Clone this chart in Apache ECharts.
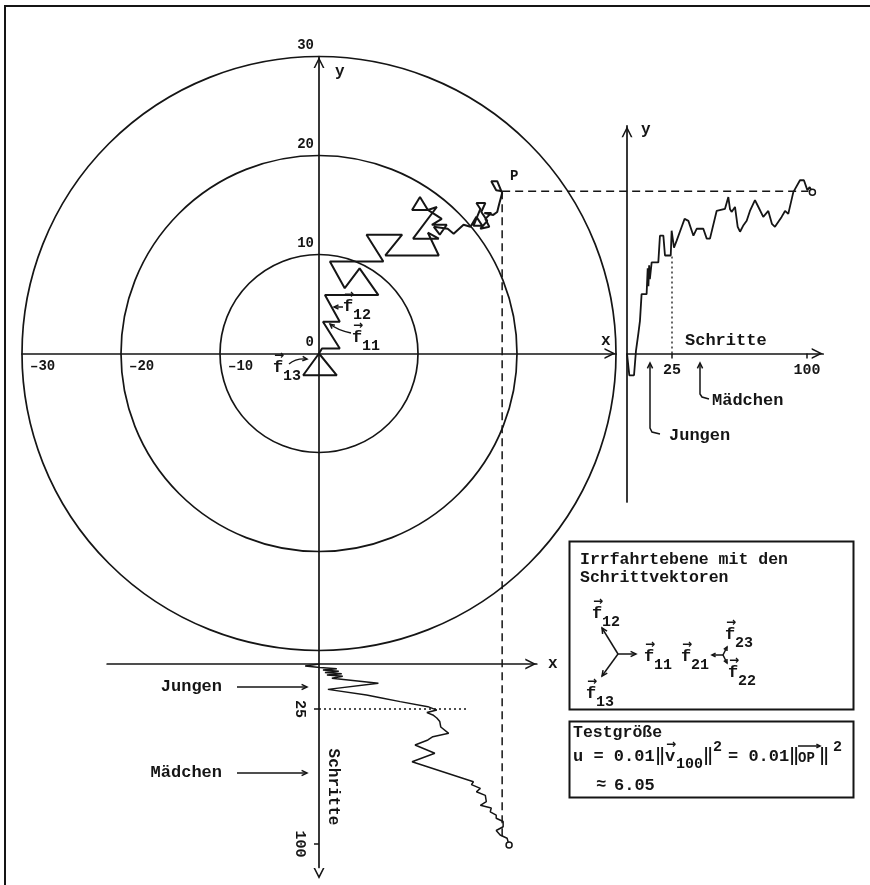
<!DOCTYPE html>
<html>
<head>
<meta charset="utf-8">
<script src="https://cdn.jsdelivr.net/npm/echarts@6/dist/echarts.min.js"></script>
<style>
  html, body { margin: 0; padding: 0; background: #fff; }
  #chart { width: 870px; height: 885px; }
</style>
</head>
<body>
<div id="chart"></div>
<script>
// --- data ---
// random walk in the plane (x, y)
var walkX = [0, -1.6, 1.8, 0, 0.3, 2.1, 0.4, 2.1, 0.6, 6.0, 4.1, 2.6, 1.1, 6.5, 4.8, 8.4, 6.7, 12.1,
  11.0, 12.1, 9.5, 11.9, 11.0, 9.4, 10.2, 11.0, 12.4, 11.4, 12.9, 12.2, 11.6, 13.0, 13.6, 14.6,
  15.3, 15.9, 16.5, 15.6, 16.3, 15.9, 16.8, 16.4, 17.0, 16.3, 17.2, 16.8, 17.4, 16.7, 17.6, 18.0,
  18.2, 18.5, 18.0, 17.4, 17.9, 18.5];
var walkY = [0, -2.2, -2.2, 0, 0.5, 0.5, 3.2, 3.2, 5.9, 5.9, 8.6, 6.6, 9.3, 9.3, 12.0, 12.0, 9.9, 9.9,
  12.2, 11.6, 11.6, 14.8, 14.5, 14.5, 15.8, 14.5, 13.6, 13.0, 13.0, 12.0, 12.8, 12.6, 12.1, 13.0,
  12.8, 13.8, 12.9, 12.9, 14.6, 15.2, 15.2, 14.3, 13.4, 12.6, 12.8, 13.6, 14.2, 14.2, 14.0, 14.3,
  15.1, 16.2, 17.4, 17.4, 16.5, 16.4];
// y coordinate against step number (right panel)
var ySteps = [0, 1.3, 3.9, 5, 6.3, 7.2, 8.1, 10.9, 11.5, 11.9, 12.3, 12.7, 13.7, 17.4, 18.3, 20.2,
  21.1, 24.3, 24.8, 26.1, 27.6, 30.4, 32.0, 34.1, 36.9, 38.7, 42.4, 44.3, 46.1, 49.8, 54.4, 56.3,
  57.2, 58.1, 60, 61.5, 62.8, 64.5, 66.5, 68.3, 71.1, 73.0, 75.7, 78.5, 80.5, 82.2, 85.9, 87.8,
  89.6, 92.4, 96.1, 98.3, 100.2, 101.5, 103];
var yValues = [0, -2.2, -2.2, 0.3, 2.0, 3.3, 6.0, 6.0, 8.6, 6.8, 8.9, 7.5, 9.2, 9.2, 11.9, 11.9,
  9.9, 9.9, 12.4, 10.7, 11.4, 12.8, 13.6, 13.4, 11.9, 12.6, 12.6, 11.6, 11.6, 14.4, 14.6, 15.8,
  14.6, 14.3, 14.8, 12.8, 12.3, 12.9, 13.4, 14.4, 15.5, 14.8, 13.8, 14.4, 13.1, 12.8, 13.8, 14.4,
  14.1, 16.3, 17.5, 17.5, 16.5, 16.8, 16.3];
// x coordinate against step number (bottom panel)
var xSteps = [0, 1.1, 1.9, 2.6, 3.3, 4.0, 4.7, 5.4, 6.1, 6.8, 7.9, 10.7, 14.1, 17.2, 18.7, 20.9,
  23.7, 25.6, 27.0, 28.3, 30.0, 32.0, 35.0, 38.5, 40.4, 42.2, 45.0, 49.6, 54.3, 65.4, 67.0, 69.1,
  71.0, 73.0, 76.5, 78.5, 80.0, 82.1, 84.0, 85.7, 87.5, 90.4, 92.5, 95.0, 96.8, 98.7, 100.5];
var xValues = [0, -1.4, 0.1, 1.8, 0.4, 2.0, 0.6, 2.3, 0.8, 2.4, 1.3, 6.0, 0.9, 4.8, 6.2, 8.2,
  11.0, 11.9, 10.9, 11.5, 11.9, 12.2, 12.3, 13.1, 11.5, 11.0, 9.7, 11.7, 9.4, 15.6, 15.4, 16.3,
  15.9, 16.8, 16.9, 16.3, 17.4, 17.3, 17.9, 17.9, 18.6, 18.6, 17.9, 18.3, 19.0, 19.1, 19.2];

var ringRadii = [10, 20, 30];
var planeTicksX = [-30, -20, -10];
var planeTicksY = [0, 10, 20, 30];
var stepTicks = [25, 100];
var splitStep = 25;        // Jungen / Mädchen boundary
var splitY = 9.9;          // y at step 25
var splitX = 15;           // end of dotted guide in bottom panel

var ink = '#151515';
var mono = '"Liberation Mono", "DejaVu Sans Mono", monospace';
var chevron = 'path://M0,12 L6,0 L12,12 L10.2,12 L6,3.6 L1.8,12 Z';

// scales: 9.9 px per unit in the plane, 1.8 px per step
var U = 9.9, ST = 1.8;
var plane = { xMin: -30, xMax: 30, yMin: -31.4, yMax: 30 };
var right = { sMax: 109, yMin: -15, yMax: 23 };
var bottom = { xMin: -21.4, xMax: 22, sMax: 113 };

function lineOf(xs, ys, withEnd) {
  var d = xs.map(function (x, i) { return [x, ys[i]]; });
  if (withEnd) {
    var last = d.pop();
    d.push({ value: last, symbol: 'circle', symbolSize: 6,
      itemStyle: { color: '#fff', borderColor: ink, borderWidth: 1.5 } });
  }
  return d;
}

function axisBase(extra, sym) {
  var a = {
    type: 'value',
    axisLine: { show: true, onZero: false, symbol: sym || ['none', chevron], symbolSize: [11, 12],
      symbolOffset: [-6, -6], lineStyle: { color: ink, width: 1.7 } },
    axisTick: { show: false },
    axisLabel: { show: false },
    splitLine: { show: false }
  };
  for (var k in extra) a[k] = extra[k];
  return a;
}
var labelFont = { color: ink, fontFamily: mono, fontWeight: 'bold', fontSize: 14 };
function lab(extra) { var o = {}; for (var k in labelFont) o[k] = labelFont[k]; for (var j in extra) o[j] = extra[j]; o.show = true; return o; }
var tick = { show: true, customValues: stepTicks, length: 5, lineStyle: { color: ink, width: 1.5 } };

var option = {
  animation: false,
  backgroundColor: '#fff',
  grid: [
    { left: 22, top: 353.5 - plane.yMax * U, width: (plane.xMax - plane.xMin) * U,
      height: (plane.yMax - plane.yMin) * U, outerBoundsMode: 'none' },
    { left: 627, top: 353.5 - right.yMax * U, width: right.sMax * ST,
      height: (right.yMax - right.yMin) * U, outerBoundsMode: 'none' },
    { left: 319 + bottom.xMin * U, top: 664, width: (bottom.xMax - bottom.xMin) * U,
      height: bottom.sMax * ST, outerBoundsMode: 'none' }
  ],
  xAxis: [
    axisBase({ gridIndex: 0, min: plane.xMin, max: plane.xMax, position: 'bottom',
      offset: plane.yMin * U,
      axisLabel: lab({ customValues: planeTicksX, align: 'left', margin: 6, padding: [0, 0, 0, 8],
        formatter: function (v) { return String(v).replace('-', '\u2013'); } }) }),
    axisBase({ gridIndex: 1, min: 0, max: right.sMax, position: 'bottom',
      offset: right.yMin * U, axisTick: tick,
      axisLabel: lab({ customValues: stepTicks, margin: 9, fontSize: 15 }) }),
    axisBase({ gridIndex: 2, min: bottom.xMin, max: bottom.xMax, position: 'top' })
  ],
  yAxis: [
    axisBase({ gridIndex: 0, min: plane.yMin, max: plane.yMax, position: 'left',
      offset: plane.xMin * U,
      axisLabel: lab({ customValues: planeTicksY, margin: 5, verticalAlign: 'bottom', padding: [0, 0, 4, 0] }) }),
    axisBase({ gridIndex: 1, min: right.yMin, max: right.yMax, position: 'left' }),
    axisBase({ gridIndex: 2, min: 0, max: bottom.sMax, inverse: true, position: 'left',
      offset: bottom.xMin * U, axisTick: tick,
      axisLabel: lab({ customValues: stepTicks, margin: 12, fontSize: 15, rotate: -90 }) },
      [chevron, 'none'])
  ],
  series: [
    {
      type: 'custom', xAxisIndex: 0, yAxisIndex: 0, silent: true, clip: false,
      data: ringRadii.map(function (r) { return [0, 0, r]; }),
      renderItem: function (params, api) {
        var c = api.coord([api.value(0), api.value(1)]);
        var r = api.size([api.value(2), 0])[0];
        return { type: 'circle', shape: { cx: c[0], cy: c[1], r: r },
          style: { fill: 'none', stroke: ink, lineWidth: 1.7 } };
      }
    },
    {
      type: 'line', xAxisIndex: 0, yAxisIndex: 0, data: lineOf(walkX, walkY, false),
      symbol: 'none', lineStyle: { color: ink, width: 2 }, silent: true, z: 3
    },
    {
      type: 'line', xAxisIndex: 1, yAxisIndex: 1, data: lineOf(ySteps, yValues, true),
      symbol: 'none', showSymbol: true, lineStyle: { color: ink, width: 1.8 }, silent: true, z: 3
    },
    {
      type: 'line', xAxisIndex: 2, yAxisIndex: 2, data: lineOf(xValues, xSteps, true),
      symbol: 'none', showSymbol: true, lineStyle: { color: ink, width: 1.5 }, silent: true, z: 3
    }
  ]
};

var chart = echarts.init(document.getElementById('chart'));
chart.setOption(option);

// --- annotations ---
function T(x, y, s, size, extra) {
  var st = { text: s, fill: ink, fontFamily: mono, fontWeight: 'bold', fontSize: size || 16,
    align: 'left', verticalAlign: 'middle' };
  var el = { type: 'text', x: x, y: y, style: st, silent: true, z: 10 };
  if (extra) {
    for (var k in extra) {
      if (k === 'style') { for (var j in extra.style) st[j] = extra.style[j]; }
      else el[k] = extra[k];
    }
  }
  return el;
}
function L(pts, st) {
  var s = { stroke: ink, lineWidth: 1.5, fill: null };
  for (var k in st) s[k] = st[k];
  return { type: 'polyline', shape: { points: pts }, style: s, silent: true, z: 10 };
}
function head(x, y, ang, len) {
  len = len || 6;
  var a1 = ang + Math.PI - 0.45, a2 = ang + Math.PI + 0.45;
  return L([[x + len * Math.cos(a1), y + len * Math.sin(a1)], [x, y],
    [x + len * Math.cos(a2), y + len * Math.sin(a2)]]);
}
function arrow(x1, y1, x2, y2, len) {
  return [L([[x1, y1], [x2, y2]]), head(x2, y2, Math.atan2(y2 - y1, x2 - x1), len)];
}
function curve(x1, y1, cx, cy, x2, y2) {
  return [{ type: 'bezierCurve', shape: { x1: x1, y1: y1, cpx1: cx, cpy1: cy, x2: x2, y2: y2 },
    style: { stroke: ink, lineWidth: 1.4, fill: null }, silent: true, z: 10 },
    head(x2, y2, Math.atan2(y2 - cy, x2 - cx), 5)];
}
function vec(x, y, sub, size) {
  size = size || 17;
  return [
    T(x, y, 'f', size),
    T(x + 1, y - 12, '\u2192', 12, { style: { fontFamily: 'DejaVu Sans' } }),
    T(x + 10, y + 8, sub, size - 2)
  ];
}

var n = walkX.length;
var P = chart.convertToPixel({ gridIndex: 0 }, [walkX[n - 1], walkY[n - 1]]);
var R = chart.convertToPixel({ gridIndex: 1 }, [ySteps[ySteps.length - 1], yValues[yValues.length - 1]]);
var B = chart.convertToPixel({ gridIndex: 2 }, [xValues[xValues.length - 1], xSteps[xSteps.length - 1]]);
var g1a = chart.convertToPixel({ gridIndex: 1 }, [splitStep, 0]);
var g1b = chart.convertToPixel({ gridIndex: 1 }, [splitStep, splitY]);
var g2a = chart.convertToPixel({ gridIndex: 2 }, [0, splitStep]);
var g2b = chart.convertToPixel({ gridIndex: 2 }, [splitX, splitStep]);

var els = [];
function add(a) { els = els.concat(a); }

// frame
add(L([[5, 885], [5, 6], [870, 6]], { lineWidth: 2 }));

// guides
add(L([[P[0], P[1]], [R[0] - 4, P[1]]], { lineDash: [8, 5], lineWidth: 1.5 }));
add(L([[P[0], P[1]], [P[0], B[1] - 4]], { lineDash: [8, 5], lineWidth: 1.5 }));
add(L([g1a, g1b], { lineDash: [2, 3], lineWidth: 1.3 }));
add(L([g2a, g2b], { lineDash: [2, 3], lineWidth: 1.3 }));

// plane labels
add(T(335, 72, 'y', 16));
add(T(601, 341, 'x', 16));
add(T(510, 176, 'P', 14));
add(vec(343, 307, '12'));
add(vec(352, 338, '11'));
add(vec(273, 368, '13'));
add(arrow(343, 307, 334, 307, 5));
add(curve(351, 333, 337, 330, 330, 324));
add(curve(289, 364, 296, 358, 307, 359));

// right panel
add(T(641, 130, 'y', 16));
add(T(685, 341, 'Schritte', 17));
add(L([[650, 364], [650, 428], [652, 432], [660, 434]]));
add(head(650, 363, -Math.PI / 2, 6));
add(T(669, 436, 'Jungen', 17));
add(L([[700, 364], [700, 394], [702, 397], [709, 399]]));
add(head(700, 363, -Math.PI / 2, 6));
add(T(712, 401, 'M\u00e4dchen', 17));

// bottom panel
add(T(548, 664, 'x', 16));
add(T(222, 687, 'Jungen', 17, { style: { align: 'right' } }));
add(arrow(237, 687, 307, 687, 6));
add(T(222, 773, 'M\u00e4dchen', 17, { style: { align: 'right' } }));
add(arrow(237, 773, 307, 773, 6));
add(T(333, 787, 'Schritte', 16, { rotation: -Math.PI / 2, style: { align: 'center' } }));

// box 1: step vectors
add({ type: 'rect', shape: { x: 569.5, y: 541.5, width: 284, height: 168 },
  style: { fill: '#fff', stroke: ink, lineWidth: 2 }, silent: true, z: 9 });
add(T(580, 560, 'Irrfahrtebene mit den', 16.5));
add(T(580, 578, 'Schrittvektoren', 16.5));
add(arrow(618, 654, 636, 654, 6));
add(arrow(618, 654, 602, 628, 6));
add(arrow(618, 654, 602, 676, 6));
add(vec(592, 614, '12'));
add(vec(644, 657, '11'));
add(vec(586, 694, '13'));
add(vec(681, 657, '21'));
add(arrow(723, 655, 712, 655, 4));
add(arrow(723, 655, 727, 647, 4));
add(arrow(723, 655, 727, 663, 4));
add(vec(725, 635, '23'));
add(vec(728, 673, '22'));

// box 2: test statistic
add({ type: 'rect', shape: { x: 569.5, y: 721.5, width: 284, height: 76 },
  style: { fill: '#fff', stroke: ink, lineWidth: 2 }, silent: true, z: 9 });
add(T(573, 733, 'Testgr\u00f6\u00dfe', 16.5));
add(T(573, 757, 'u = 0.01', 17));
add(T(655, 757, '\u2016', 17));
add(T(665, 757, 'v', 17));
add(T(666, 745, '\u2192', 12, { style: { fontFamily: 'DejaVu Sans' } }));
add(T(676, 764, '100', 15));
add(T(703, 757, '\u2016', 17));
add(T(713, 747, '2', 15));
add(T(728, 757, '= 0.01', 17));
add(T(789, 757, '\u2016', 17));
add(T(798, 758, 'OP', 14));
add(arrow(798, 746, 820, 746, 4));
add(T(819, 757, '\u2016', 17));
add(T(833, 747, '2', 15));
add(T(596, 785, '\u2248', 17));
add(T(614, 786, '6.05', 17));

chart.setOption({ graphic: { elements: els } });
</script>
</body>
</html>
